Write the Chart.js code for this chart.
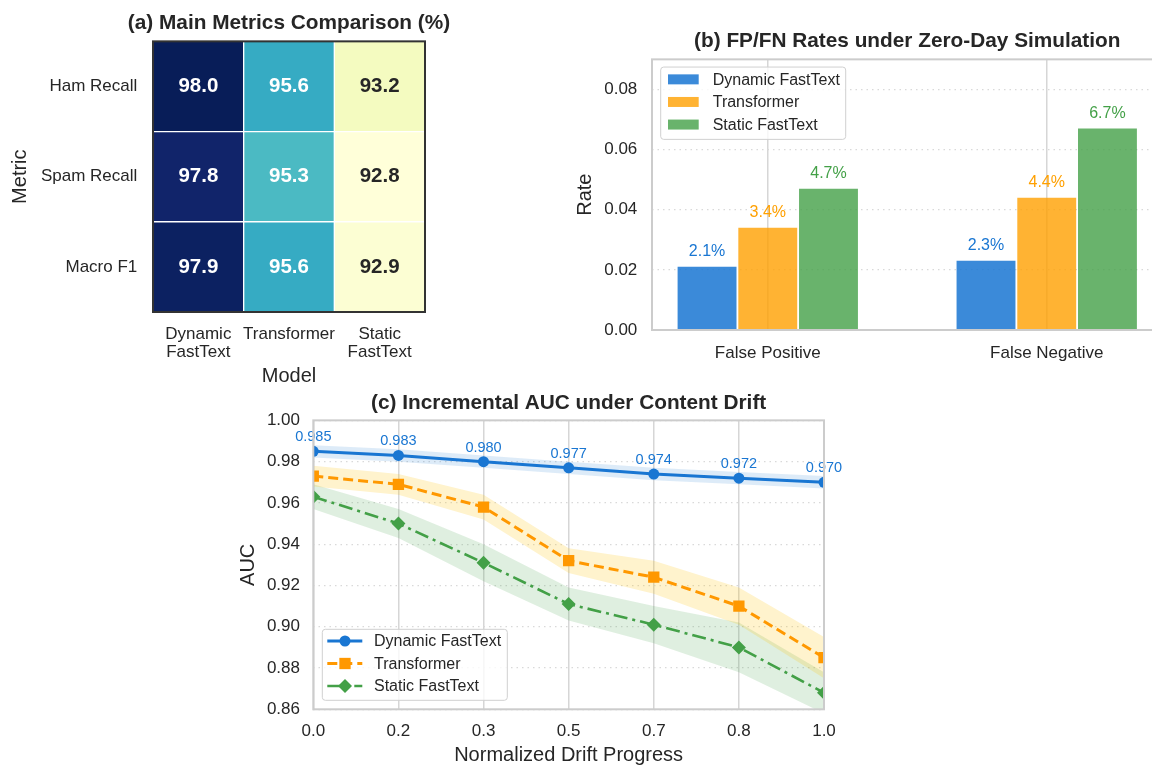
<!DOCTYPE html>
<html>
<head>
<meta charset="utf-8">
<script src="https://cdn.jsdelivr.net/npm/chart.js@4.4.1/dist/chart.umd.min.js"></script>
<style>
  html, body { margin: 0; padding: 0; background: #ffffff; }
  body { width: 1152px; height: 765px; overflow: hidden; position: relative; }
  canvas { position: absolute; }
  #heatChart { left: 0; top: 0; }
  #rateChart { left: 560px; top: 0; }
  #aucChart { left: 230px; top: 380px; }
</style>
</head>
<body>
<canvas id="heatChart" width="578" height="400"></canvas>
<canvas id="rateChart" width="620" height="400"></canvas>
<canvas id="aucChart" width="620" height="400"></canvas>
<script>
// (a) heatmap data
const models = ['Dynamic FastText', 'Transformer', 'Static FastText'];
const metrics = ['Ham Recall', 'Spam Recall', 'Macro F1'];
const hamRecall = [98.0, 95.6, 93.2];
const spamRecall = [97.8, 95.3, 92.8];
const macroF1 = [97.9, 95.6, 92.9];

// (b) FP / FN rates
const errorTypes = ['False Positive', 'False Negative'];
const rateDynamic = [0.021, 0.023];
const rateTransformer = [0.034, 0.044];
const rateStatic = [0.047, 0.067];
const rateTicks = [0.00, 0.02, 0.04, 0.06, 0.08];

// (c) AUC under drift
const driftTicks = ['0.0', '0.2', '0.3', '0.5', '0.7', '0.8', '1.0'];
const aucDynamic = [0.985, 0.983, 0.980, 0.977, 0.974, 0.972, 0.970];
const aucTransformer = [0.973, 0.969, 0.958, 0.932, 0.924, 0.910, 0.885];
const aucStatic = [0.963, 0.950, 0.931, 0.911, 0.901, 0.890, 0.868];
const spreadDynamic = [0.003, 0.003, 0.003, 0.003, 0.003, 0.003, 0.003];
const spreadTransformer = [0.005, 0.005, 0.006, 0.006, 0.008, 0.009, 0.010];
const spreadStatic = [0.006, 0.007, 0.009, 0.008, 0.009, 0.012, 0.010];
const aucTicks = [0.86, 0.88, 0.90, 0.92, 0.94, 0.96, 0.98, 1.00];

const FONT = '"Liberation Sans", Arial, Helvetica, sans-serif';
const INK = '#262626';
const YLGNBU = ['#ffffd9', '#edf8b1', '#c7e9b4', '#7fcdbb', '#41b6c4', '#1d91c0', '#225ea8', '#253494', '#081d58'];

Chart.defaults.font.family = FONT;
Chart.defaults.color = INK;
Chart.defaults.animation = false;
Chart.defaults.plugins.legend.display = false;
Chart.defaults.plugins.tooltip.enabled = false;

// colour helpers
function hexToRgb(h) {
    return [parseInt(h.slice(1, 3), 16), parseInt(h.slice(3, 5), 16), parseInt(h.slice(5, 7), 16)];
}
function rgba(hex, a) {
    return 'rgba(' + hexToRgb(hex).join(',') + ',' + a + ')';
}

const heatRows = [hamRecall, spamRecall, macroF1];
const heatAll = heatRows.flat();
const vMin = Math.min(...heatAll);
const vMax = Math.max(...heatAll);

function heatRgb(v) {
    const t = Math.max(0, Math.min(1, (v - vMin) / (vMax - vMin))) * (YLGNBU.length - 1);
    const i = Math.min(Math.floor(t), YLGNBU.length - 2);
    const f = t - i;
    const a = hexToRgb(YLGNBU[i]);
    const b = hexToRgb(YLGNBU[i + 1]);
    return a.map((c, k) => Math.round(c + (b[k] - c) * f));
}
function luminance(rgb) {
    const lin = rgb.map(c => {
        c = c / 255;
        return c <= 0.03928 ? c / 12.92 : Math.pow((c + 0.055) / 1.055, 2.4);
    });
    return 0.2126 * lin[0] + 0.7152 * lin[1] + 0.0722 * lin[2];
}

function titleOpts(text, top, bottom, fullSize) {
    return {
        display: true, text: text, fullSize: fullSize, color: INK,
        font: { size: 20.8, weight: 'bold', lineHeight: 1.2 },
        padding: { top: top, bottom: bottom }
    };
}

function drawFrame(chart, color, width) {
    const a = chart.chartArea;
    const ctx = chart.ctx;
    ctx.save();
    ctx.strokeStyle = color;
    ctx.lineWidth = width;
    ctx.strokeRect(a.left, a.top, a.right - a.left, a.bottom - a.top);
    ctx.restore();
}

function legendBox(ctx, x, y, w, h) {
    ctx.save();
    ctx.beginPath();
    ctx.roundRect(x, y, w, h, 3);
    ctx.fillStyle = 'rgba(255,255,255,0.8)';
    ctx.fill();
    ctx.strokeStyle = '#d0d0d0';
    ctx.lineWidth = 1;
    ctx.stroke();
    ctx.restore();
}

// (a) heatmap, drawn as floating bars
function initHeatChart() {
    const heatPlugin = {
        id: 'heatPlugin',
        afterDatasetsDraw(chart) {
            const ctx = chart.ctx;
            ctx.save();
            ctx.font = 'bold 20.5px ' + FONT;
            ctx.textAlign = 'center';
            ctx.textBaseline = 'middle';
            chart.data.datasets.forEach((ds, i) => {
                chart.getDatasetMeta(i).data.forEach((bar, j) => {
                    const v = ds.cellValues[j];
                    ctx.fillStyle = luminance(heatRgb(v)) > 0.408 ? INK : '#ffffff';
                    ctx.fillText(v.toFixed(1), bar.x, (bar.y + bar.base) / 2);
                });
            });
            ctx.restore();
        },
        afterDraw(chart) {
            drawFrame(chart, '#333333', 2);
        }
    };

    new Chart(document.getElementById('heatChart'), {
        type: 'bar',
        data: {
            labels: models,
            datasets: heatRows.map((row, i) => ({
                label: metrics[i],
                data: row.map(() => [i - 0.5, i + 0.5]),
                cellValues: row,
                backgroundColor: row.map(v => 'rgb(' + heatRgb(v).join(',') + ')'),
                borderColor: '#ffffff',
                borderWidth: 1,
                borderSkipped: false,
                grouped: false,
                barPercentage: 1,
                categoryPercentage: 1
            }))
        },
        options: {
            responsive: false,
            layout: { padding: 0 },
            plugins: { title: titleOpts('(a) Main Metrics Comparison (%)', 11, 5.4, true) },
            scales: {
                x: {
                    type: 'category',
                    grid: { display: false, drawTicks: false },
                    border: { display: false },
                    ticks: {
                        color: INK, padding: 13.3, maxRotation: 0, autoSkip: false,
                        font: { size: 17, lineHeight: 1.06 },
                        callback: function (value) {
                            const name = this.getLabelForValue(value);
                            return name.indexOf(' ') > 0 ? name.split(' ') : name;
                        }
                    },
                    title: { display: true, text: 'Model', color: INK, font: { size: 20 }, padding: { top: 0, bottom: 11.3 } },
                    afterFit: s => { s.height = 88; }
                },
                y: {
                    type: 'linear', reverse: true, min: -0.5, max: 2.5,
                    grid: { display: false, drawTicks: false },
                    border: { display: false },
                    afterBuildTicks: s => { s.ticks = metrics.map((m, i) => ({ value: i })); },
                    ticks: { color: INK, padding: 15.7, font: { size: 17 }, callback: v => metrics[v] },
                    title: { display: true, text: 'Metric', color: INK, font: { size: 20 }, padding: { top: 8.7, bottom: 0 } },
                    afterFit: s => { s.width = 153; }
                },
                // empty right-hand spacer so the title centres over the heatmap
                spacer: {
                    type: 'linear', position: 'right',
                    grid: { display: false, drawTicks: false },
                    border: { display: false },
                    ticks: { display: false },
                    afterFit: s => { s.width = 153; }
                }
            }
        },
        plugins: [heatPlugin]
    });
}

// (b) grouped bars with value labels
function initRateChart() {
    const series = [
        { label: 'Dynamic FastText', values: rateDynamic, color: '#1976D2', alpha: 0.85 },
        { label: 'Transformer', values: rateTransformer, color: '#FFA000', alpha: 0.8 },
        { label: 'Static FastText', values: rateStatic, color: '#43A047', alpha: 0.8 }
    ];

    const ratePlugin = {
        id: 'ratePlugin',
        afterDatasetsDraw(chart) {
            const ctx = chart.ctx;
            ctx.save();
            ctx.font = '16px ' + FONT;
            ctx.textAlign = 'center';
            ctx.textBaseline = 'middle';
            chart.data.datasets.forEach((ds, i) => {
                ctx.fillStyle = ds.labelColor;
                chart.getDatasetMeta(i).data.forEach((bar, j) => {
                    const v = ds.data[j].y;
                    ctx.fillText((v * 100).toFixed(1) + '%', bar.x, bar.y - 15);
                });
            });
            ctx.restore();
        },
        afterDraw(chart) {
            drawFrame(chart, '#cccccc', 2);
            // legend, top-left inside the axes
            const ctx = chart.ctx;
            const a = chart.chartArea;
            const x = a.left + 8.7, y = a.top + 7.7;
            legendBox(ctx, x, y, 185, 72.3);
            ctx.save();
            ctx.font = '16px ' + FONT;
            ctx.textBaseline = 'middle';
            chart.data.datasets.forEach((ds, i) => {
                const cy = y + 12.3 + i * 22.6;
                ctx.fillStyle = ds.backgroundColor;
                ctx.fillRect(x + 7.3, cy - 5, 30.7, 10);
                ctx.fillStyle = INK;
                ctx.fillText(ds.label, x + 52, cy + 1);
            });
            ctx.restore();
        }
    };

    new Chart(document.getElementById('rateChart'), {
        type: 'bar',
        data: {
            datasets: series.map(s => ({
                label: s.label,
                data: errorTypes.map((c, i) => ({ x: i, y: s.values[i] })),
                backgroundColor: rgba(s.color, s.alpha),
                labelColor: s.color,
                borderWidth: 0,
                categoryPercentage: 0.653,
                barPercentage: 0.97
            }))
        },
        options: {
            responsive: false,
            layout: { padding: { left: 0, right: 17.5, top: 0, bottom: 0 } },
            plugins: { title: titleOpts('(b) FP/FN Rates under Zero-Day Simulation', 28.7, 5.7, false) },
            scales: {
                x: {
                    type: 'linear', min: -0.415, max: 1.415, offset: false,
                    grid: { offset: false, color: '#d6d6d6', lineWidth: 1.5, drawTicks: false },
                    border: { display: false },
                    afterBuildTicks: s => { s.ticks = errorTypes.map((c, i) => ({ value: i })); },
                    ticks: { color: INK, padding: 12.8, font: { size: 17 }, callback: v => errorTypes[v] },
                    afterFit: s => { s.height = 70; }
                },
                y: {
                    type: 'linear', min: 0, max: 0.09,
                    grid: { color: '#d9d9d9', lineWidth: 1.2, drawTicks: false },
                    border: { display: false, dash: [1.5, 4] },
                    afterBuildTicks: s => { s.ticks = rateTicks.map(v => ({ value: v })); },
                    ticks: { color: INK, padding: 14.7, font: { size: 17 }, callback: v => v.toFixed(2) },
                    title: { display: true, text: 'Rate', color: INK, font: { size: 20 }, padding: { top: 13, bottom: 0 } },
                    afterFit: s => { s.width = 92; }
                }
            }
        },
        plugins: [ratePlugin]
    });
}

// (c) AUC lines with shaded bands
function initAucChart() {
    const series = [
        { label: 'Dynamic FastText', values: aucDynamic, spread: spreadDynamic, color: '#1976D2', band: 'rgba(25,118,210,0.15)',
          dash: [], width: 3, pointStyle: 'circle', radius: 5.5, showValues: true },
        { label: 'Transformer', values: aucTransformer, spread: spreadTransformer, color: '#FF9800', band: 'rgba(255,193,7,0.2)',
          dash: [10, 5], width: 3, pointStyle: 'rect', radius: 8, showValues: false },
        { label: 'Static FastText', values: aucStatic, spread: spreadStatic, color: '#43A047', band: 'rgba(67,160,71,0.17)',
          dash: [14, 5, 3, 5], width: 2.6, pointStyle: 'rectRot', radius: 7, showValues: false }
    ];

    const lines = series.map((s, i) => ({
        label: s.label,
        data: s.values,
        borderColor: s.color,
        backgroundColor: s.color,
        borderWidth: s.width,
        borderDash: s.dash,
        pointStyle: s.pointStyle,
        pointRadius: s.radius,
        pointBackgroundColor: s.color,
        pointBorderColor: s.color,
        pointBorderWidth: 0,
        tension: 0,
        fill: false,
        clip: 0,
        showValues: s.showValues,
        order: i
    }));
    const bands = [];
    series.forEach(s => {
        bands.push({ data: s.values.map((v, i) => v + s.spread[i]), isBand: true, borderWidth: 0, pointRadius: 0, fill: false, order: 5 });
        bands.push({ data: s.values.map((v, i) => v - s.spread[i]), isBand: true, borderWidth: 0, pointRadius: 0,
                     fill: '-1', backgroundColor: s.band, order: 5 });
    });

    const aucPlugin = {
        id: 'aucPlugin',
        afterDatasetsDraw(chart) {
            const ctx = chart.ctx;
            ctx.save();
            ctx.font = '14.5px ' + FONT;
            ctx.textAlign = 'center';
            ctx.textBaseline = 'middle';
            chart.data.datasets.forEach((ds, i) => {
                if (!ds.showValues) return;
                ctx.fillStyle = ds.borderColor;
                chart.getDatasetMeta(i).data.forEach((pt, j) => {
                    ctx.fillText(ds.data[j].toFixed(3), pt.x, pt.y - 14);
                });
            });
            ctx.restore();
        },
        afterDraw(chart) {
            drawFrame(chart, '#cccccc', 2);
            // legend, lower-left inside the axes
            const ctx = chart.ctx;
            const a = chart.chartArea;
            const h = 71;
            const x = a.left + 9, y = a.bottom - 9 - h;
            legendBox(ctx, x, y, 185, h);
            ctx.save();
            ctx.font = '16px ' + FONT;
            ctx.textBaseline = 'middle';
            chart.data.datasets.filter(ds => !ds.isBand).forEach((ds, i) => {
                const cy = y + 11.7 + i * 22.5;
                ctx.save();
                ctx.strokeStyle = ds.borderColor;
                ctx.lineWidth = ds.borderWidth;
                ctx.setLineDash(ds.borderDash);
                ctx.beginPath();
                ctx.moveTo(x + 5, cy);
                ctx.lineTo(x + 40, cy);
                ctx.stroke();
                ctx.setLineDash([]);
                ctx.fillStyle = ds.pointBackgroundColor;
                ctx.strokeStyle = ds.pointBorderColor;
                Chart.helpers.drawPoint(ctx, { pointStyle: ds.pointStyle, rotation: 0, radius: ds.pointRadius, borderWidth: 0 }, x + 22.7, cy);
                ctx.restore();
                ctx.fillStyle = INK;
                ctx.fillText(ds.label, x + 51.7, cy + 1);
            });
            ctx.restore();
        }
    };

    new Chart(document.getElementById('aucChart'), {
        type: 'line',
        data: { labels: driftTicks, datasets: lines.concat(bands) },
        options: {
            responsive: false,
            layout: { padding: { left: 0, right: 26, top: 0, bottom: 0 } },
            plugins: { title: titleOpts('(c) Incremental AUC under Content Drift', 10.7, 4.7, false) },
            scales: {
                x: {
                    type: 'category', offset: false,
                    grid: { offset: false, color: '#d6d6d6', lineWidth: 1.5, drawTicks: false },
                    border: { display: false },
                    ticks: { color: INK, padding: 11.5, font: { size: 17 }, maxRotation: 0, autoSkip: false },
                    title: { display: true, text: 'Normalized Drift Progress', color: INK, font: { size: 20 }, padding: { top: 0, bottom: 13 } },
                    afterFit: s => { s.height = 70.7; }
                },
                y: {
                    type: 'linear', min: 0.86, max: 1.0,
                    grid: { color: '#d9d9d9', lineWidth: 1.2, drawTicks: false },
                    border: { display: false, dash: [1.5, 4] },
                    afterBuildTicks: s => { s.ticks = aucTicks.map(v => ({ value: v })); },
                    ticks: { color: INK, padding: 13.3, font: { size: 17 }, callback: v => v.toFixed(2) },
                    title: { display: true, text: 'AUC', color: INK, font: { size: 20 }, padding: { top: 6, bottom: 0 } },
                    afterFit: s => { s.width = 83.3; }
                }
            }
        },
        plugins: [aucPlugin]
    });
}

document.addEventListener('DOMContentLoaded', () => {
    initHeatChart();
    initRateChart();
    initAucChart();
});
</script>
</body>
</html>
